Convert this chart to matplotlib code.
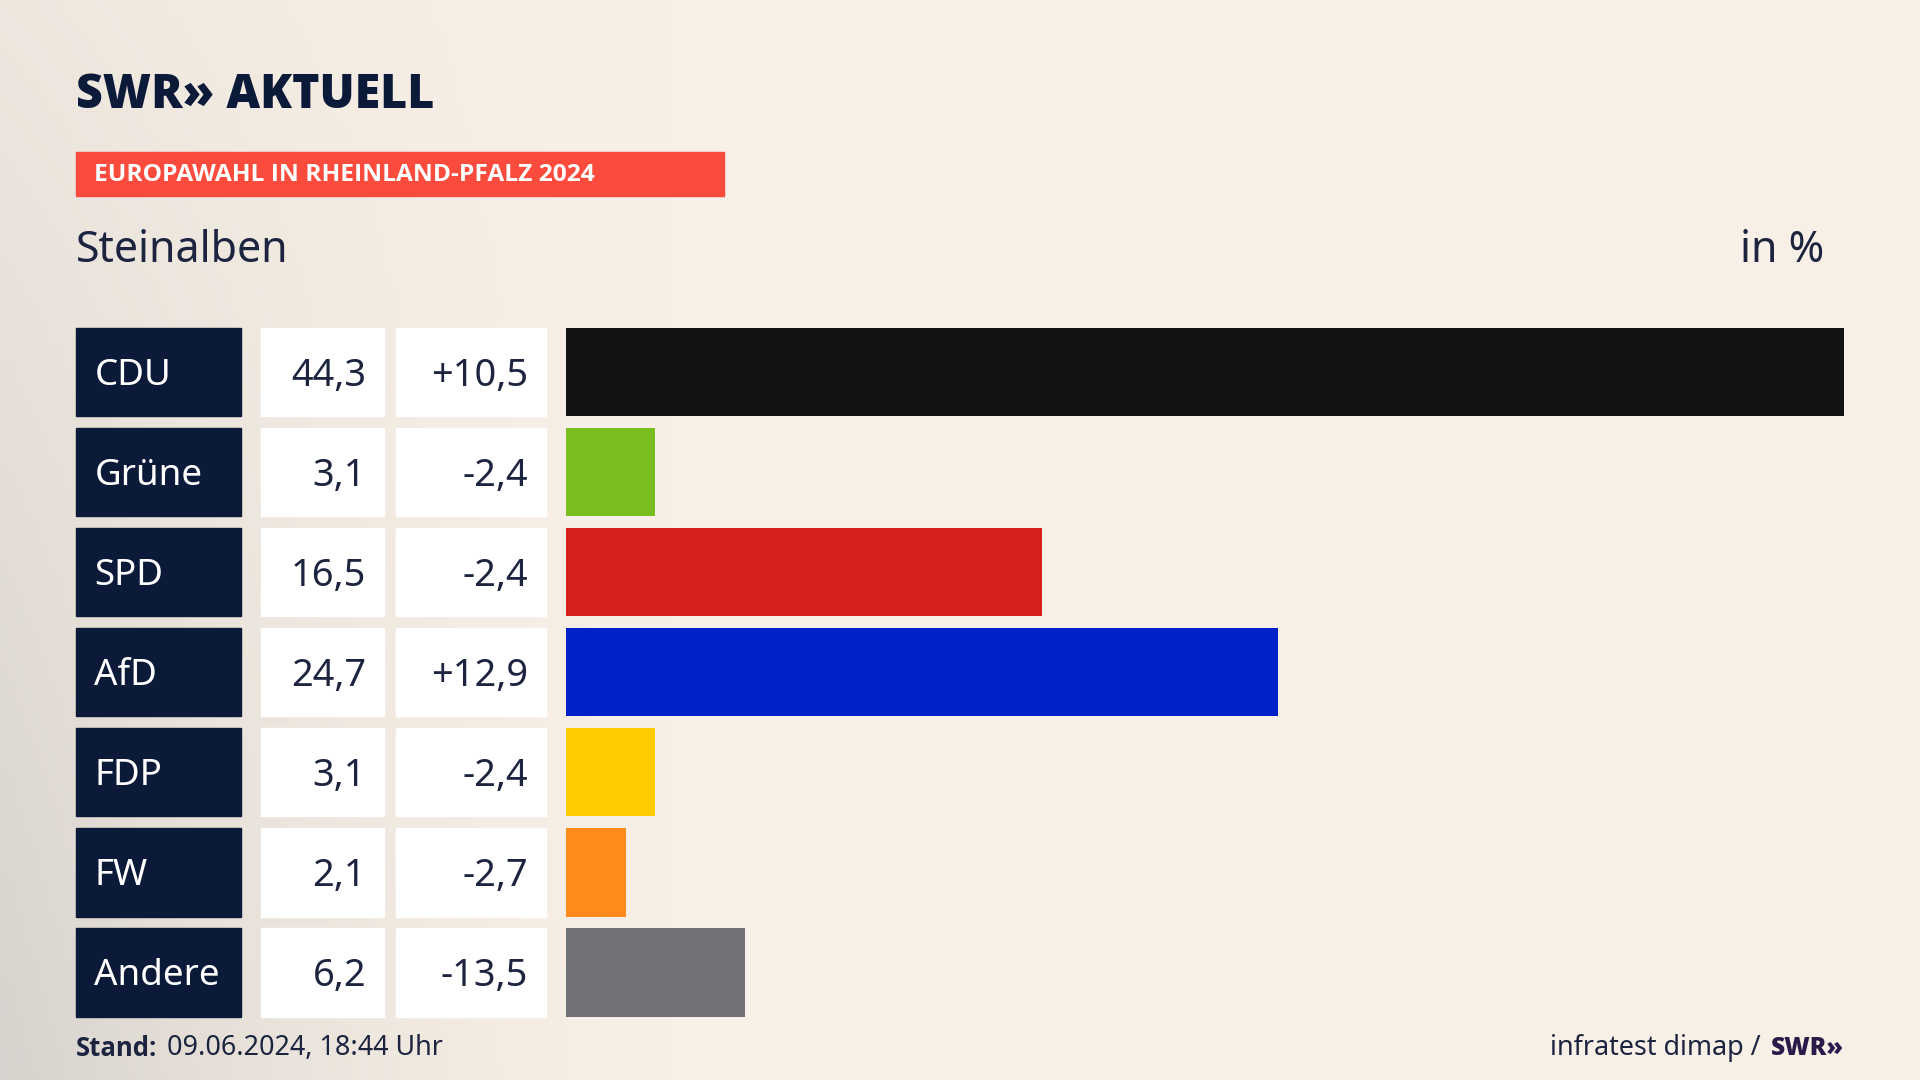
import matplotlib
matplotlib.use("Agg")
import matplotlib.pyplot as plt
import numpy as np
from matplotlib.patches import Rectangle

parties = ["CDU", "Grüne", "SPD", "AfD", "FDP", "FW", "Andere"]
values = [44.3, 3.1, 16.5, 24.7, 3.1, 2.1, 6.2]
diffs = ["+10,5", "-2,4", "-2,4", "+12,9", "-2,4", "-2,7", "-13,5"]
colors = ["#121212", "#78be1e", "#d71f1e", "#0020c8", "#ffcc00", "#ff8c1a", "#717275"]

W, H = 1568, 882
S = 1920 / W
def pt(px):
    return px * S * 0.72

fig = plt.figure(figsize=(19.2, 10.8), dpi=100)
ax = fig.add_axes([0, 0, 1, 1])
ax.set_xlim(0, W); ax.set_ylim(H, 0); ax.axis("off")

xs = np.linspace(0, 1, 400)
ys = np.linspace(0, 1, 200)
X, Y = np.meshgrid(xs, ys)
base = np.array([248, 240, 230]) / 255
gray = np.array([215, 210, 205]) / 255
t = np.clip(1 - X / 0.35, 0, 1) ** 1.5 * (0.3 + 0.7 * Y)
img = base[None, None, :] * (1 - t[..., None]) + gray[None, None, :] * t[..., None]
ax.imshow(img, extent=[0, W, H, 0], aspect="auto", zorder=0)

navy = "#0c1a3a"
font = "Noto Sans"
bfont = "Open Sans"
ax.text(62, 78, "SWR» AKTUELL", fontsize=pt(38), fontweight="heavy", color=navy,
        va="center", ha="left", family=bfont)
ax.add_patch(Rectangle((62, 124), 529, 36, color="#fa4b3c", zorder=2))
ax.text(77, 143, "EUROPAWAHL IN RHEINLAND-PFALZ 2024", fontsize=pt(20), fontweight="bold",
        color="white", va="center", ha="left", family=bfont, zorder=3)
ax.text(62, 205, "Steinalben", fontsize=pt(35), color="#1c2440", va="center", family=font)
ax.text(1490, 205, "in %", fontsize=pt(35), color="#1c2440", va="center", ha="right", family=font)

top0, pitch, h = 268, 81.7, 72
y = [top0 + h / 2 + i * pitch for i in range(len(parties))]
scale = (1506 - 462) / 44.3
ax.barh(y, [v * scale for v in values], left=462, height=h, color=colors, zorder=2)
for i, p in enumerate(parties):
    yc = y[i]
    ax.add_patch(Rectangle((62, yc - h / 2), 135, h, color=navy, zorder=2))
    ax.add_patch(Rectangle((213, yc - h / 2), 101, h, color="white", zorder=2))
    ax.add_patch(Rectangle((323, yc - h / 2), 123, h, color="white", zorder=2))
    ax.text(77, yc + 3, p, fontsize=pt(30), color="white", va="center", family=font, zorder=3)
    ax.text(299, yc + 3, f"{values[i]:.1f}".replace(".", ","), fontsize=pt(31), color="#1c2440",
            va="center", ha="right", family=font, zorder=3)
    ax.text(431, yc + 3, diffs[i], fontsize=pt(31), color="#1c2440",
            va="center", ha="right", family=font, zorder=3)

ax.text(62, 856, "Stand:", fontsize=pt(21), fontweight="bold", color="#1c2440", va="center", family=bfont)
ax.text(136, 856, "09.06.2024, 18:44 Uhr", fontsize=pt(22), color="#1c2440", va="center", family=font)
ax.text(1438, 856, "infratest dimap /", fontsize=pt(22), color="#1c2440", va="center", ha="right", family=font)
ax.text(1506, 856, "SWR»", fontsize=pt(20), fontweight="heavy", color="#2a1a4a", va="center", ha="right", family=bfont)

fig.savefig("out.png", dpi=100)
